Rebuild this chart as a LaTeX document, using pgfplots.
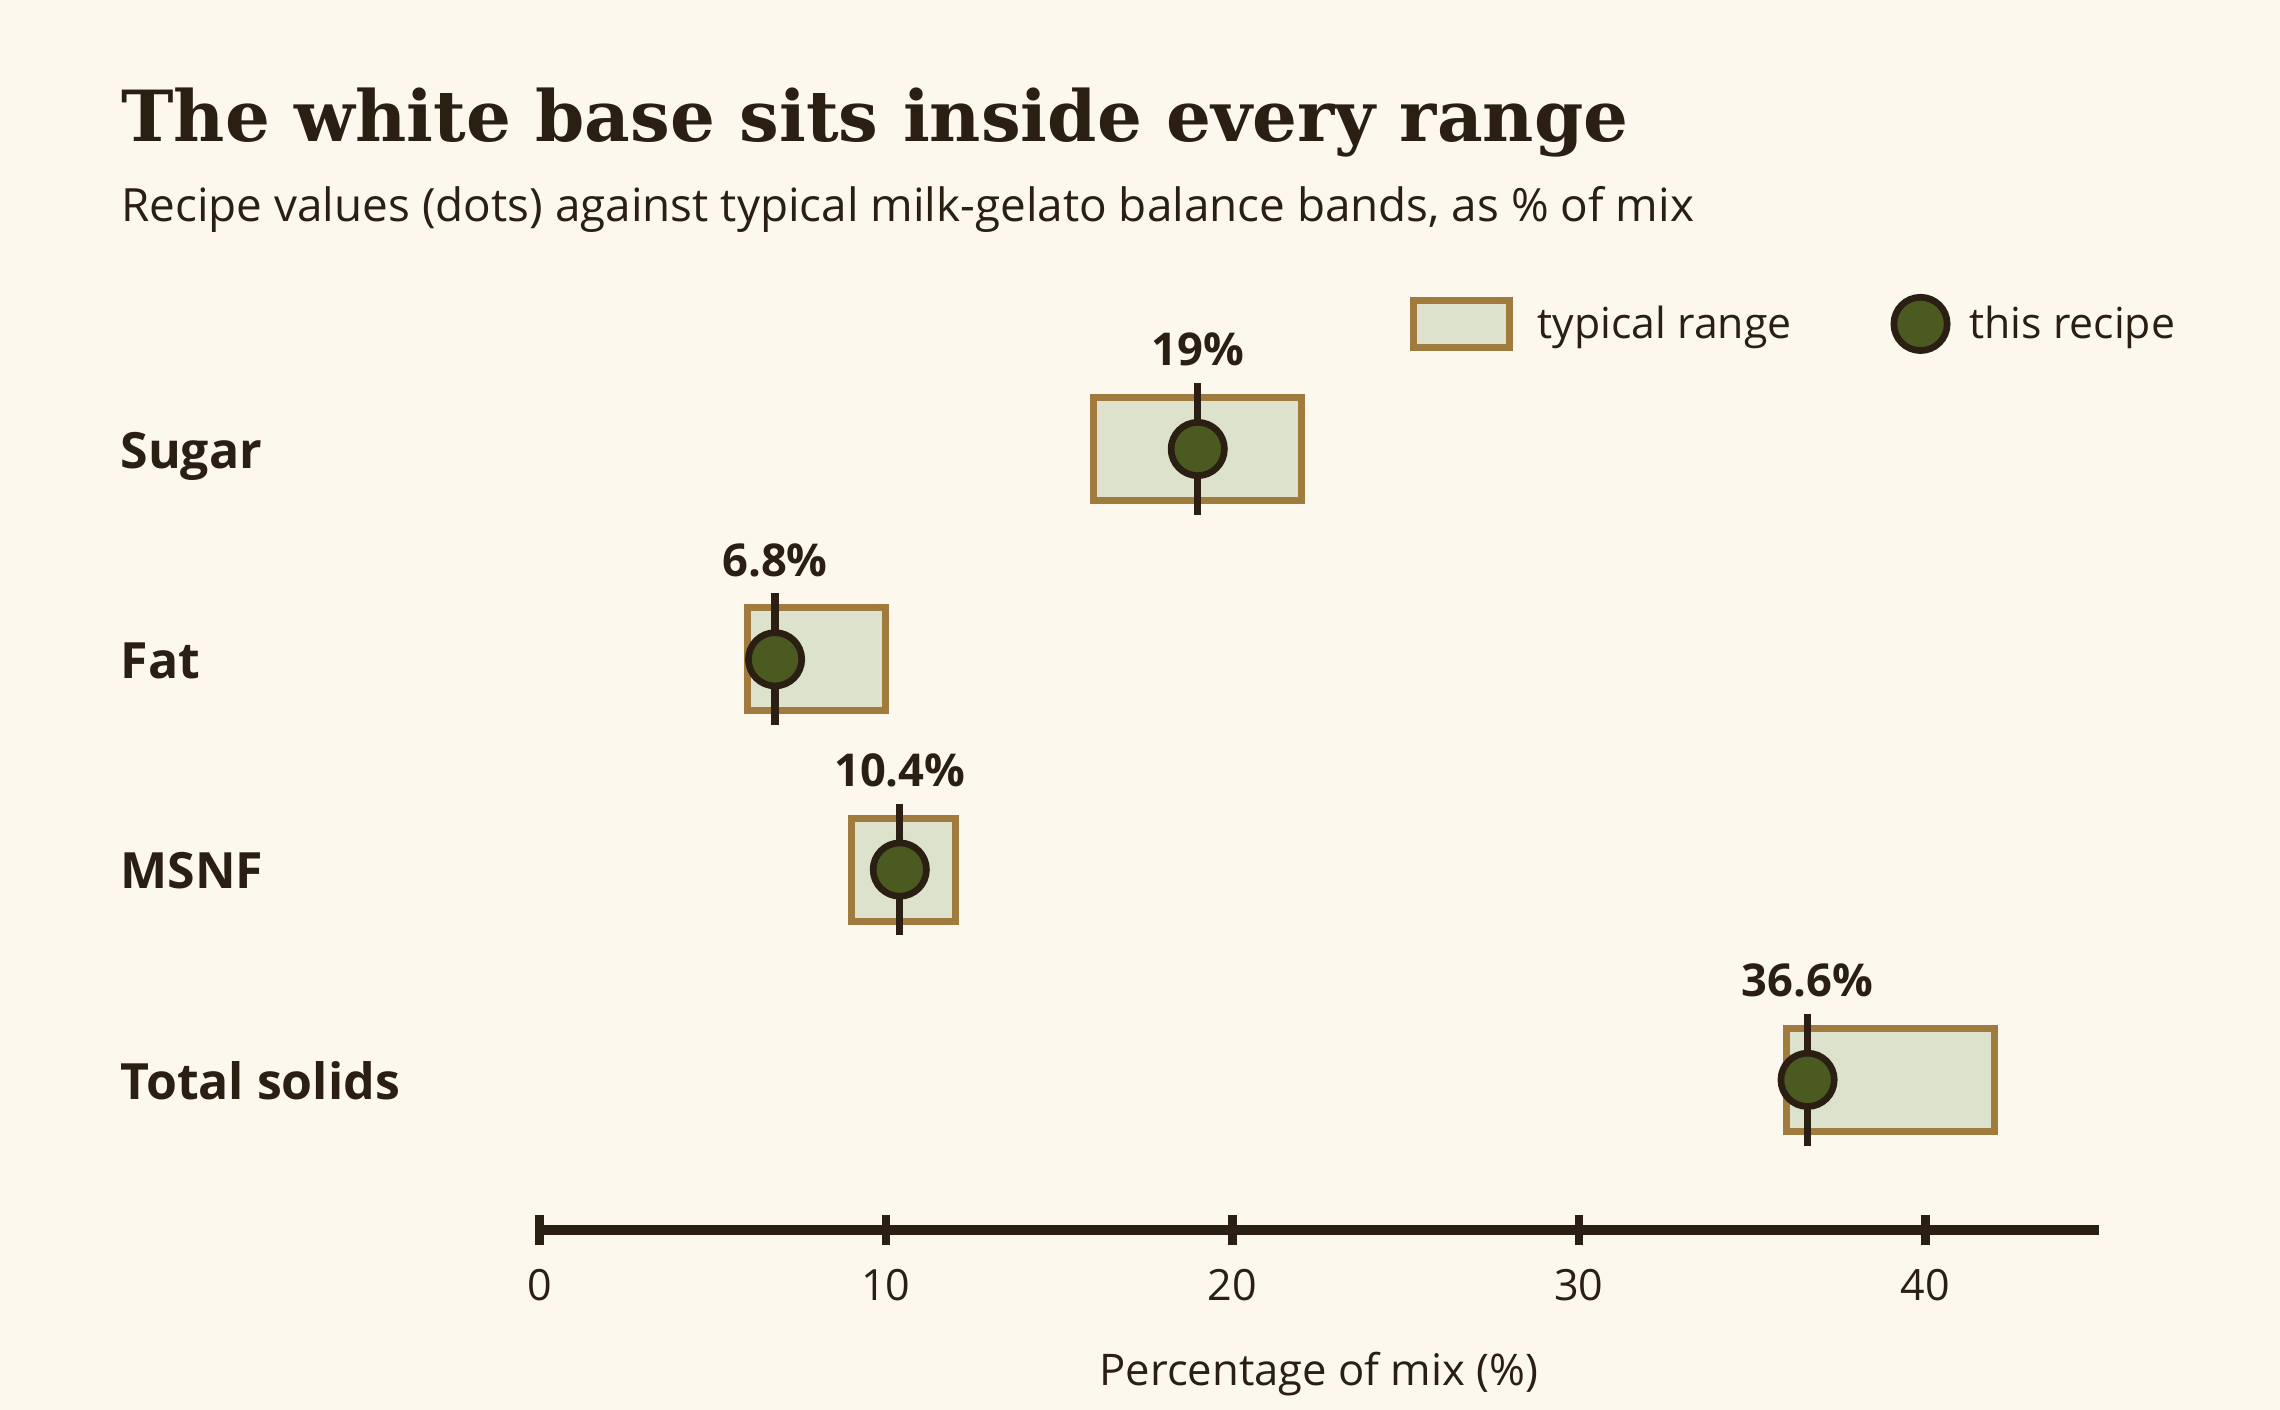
\documentclass[border=0pt]{standalone}
\usepackage{fontspec}
\usepackage{pgfplots}
\usepackage{pgfplotstable}
\pgfplotsset{compat=1.18}
\setmainfont{Open Sans}
\newfontfamily\titlefont{DejaVu Serif}
\definecolor{bg}{HTML}{FCF8EE}
\definecolor{ink}{HTML}{2B1F14}
\definecolor{barfill}{HTML}{DDE2CC}
\definecolor{barline}{HTML}{A07B3D}
\definecolor{dotfill}{HTML}{4A5A20}

\pgfplotstableread{
y lo hi val lab
3 16 22 19 19
2 6 10 6.8 6.8
1 9 12 10.4 10.4
0 36 42 36.6 36.6
}\ranges

\pgfplotsset{
  base/.style={
    scale only axis, width=561.3pt, height=319pt,
    xmin=0, xmax=45, ymin=-0.714, ymax=3.5,
    at={(194.2pt,64.8pt)}, anchor=south west, clip=false,
  },
  rangelegend/.style={legend image code/.code={\draw[##1] (0pt,-8.45pt) rectangle (34.6pt,8.45pt);}},
  dotlegend/.style={legend image code/.code={\draw[##1] plot coordinates {(0pt,0pt)};\pgfresetboundingbox\path (-10.8pt,-10.8pt) (8.4pt,10.8pt);}},
}

\begin{document}
\begin{tikzpicture}
\fill[bg] (0,0) rectangle (820.8pt,507.6pt);
\useasboundingbox (0,0) rectangle (820.8pt,507.6pt);
\node[anchor=base west, inner sep=0pt, text=ink, font=\titlefont\bfseries\fontsize{25.4}{25.4}\selectfont] at (43.5pt,456.8pt) {The white base sits inside every range};
\node[anchor=base west, inner sep=0pt, text=ink, font=\fontsize{16.5}{16.5}\selectfont] at (43.5pt,427.8pt) {Recipe values (dots) against typical milk-gelato balance bands, as \% of mix};

\begin{axis}[base,
  xbar stacked, bar width=0.49,
  axis x line=bottom, axis y line=left,
  x axis line style={-, line width=3.6pt, draw=ink},
  y axis line style={draw=none},
  xtick={0,10,20,30,40}, xtick align=center, major tick length=10.5pt,
  xtick style={line width=3pt, draw=ink},
  /pgf/number format/assume math mode=true,
  xticklabel style={anchor=base, inner sep=0pt, yshift=-20pt, text=ink, font=\fontsize{15.5}{15.5}\selectfont},
  ytick={0,1,2,3}, yticklabels={Total solids,MSNF,Fat,Sugar},
  ytick align=inside, ytick style={draw=none},
  yticklabel style={anchor=base west, inner sep=0pt, xshift=-151pt, yshift=-6.9pt, text=ink, font=\bfseries\fontsize{18}{18}\selectfont},
  xlabel={Percentage of mix (\%)},
  xlabel style={at={(axis description cs:0.5,0)}, anchor=base, inner sep=0pt, yshift=-56pt, text=ink, font=\fontsize{15.7}{15.7}\selectfont},
]
\addplot[draw=none, fill=none] table[x=lo, y=y] {\ranges};
\addplot[fill=barfill, draw=barline, line width=2.5pt] table[x expr=\thisrow{hi}-\thisrow{lo}, y=y] {\ranges};
\end{axis}

\begin{axis}[base, hide axis,
  legend columns=2,
  legend style={at={(0.5578,1.0225)}, anchor=west, draw=none, fill=none, inner sep=0pt,
    font=\fontsize{15.4}{15.4}\selectfont, text=ink,
    /tikz/column sep=7pt,
    /tikz/every even column/.append style={column sep=33.4pt}},
]
\addlegendimage{rangelegend, fill=barfill, draw=barline, line width=2.5pt}
\addlegendentry{typical range}
\addlegendimage{dotlegend, only marks, mark=*, mark size=9.6pt, mark options={fill=dotfill, draw=ink, line width=2.4pt}}
\addlegendentry{this recipe}

\addplot[only marks, mark=none, error bars/.cd, y dir=both, y fixed=0.313, error mark=none,
  error bar style={line width=2.6pt, draw=ink}] table[x=val, y=y] {\ranges};
\addplot[only marks, mark=*, mark size=9.6pt, mark options={fill=dotfill, draw=ink, line width=2.4pt}] table[x=val, y=y] {\ranges};
\addplot[only marks, mark=none, point meta=explicit symbolic,
  nodes near coords={\pgfplotspointmeta\%},
  every node near coord/.append style={anchor=base, inner sep=0pt, text=ink, font=\bfseries\fontsize{16.3}{16.3}\selectfont}]
  table[x=val, y expr=\thisrow{y}+0.395, meta=lab] {\ranges};
\end{axis}
\end{tikzpicture}
\end{document}
